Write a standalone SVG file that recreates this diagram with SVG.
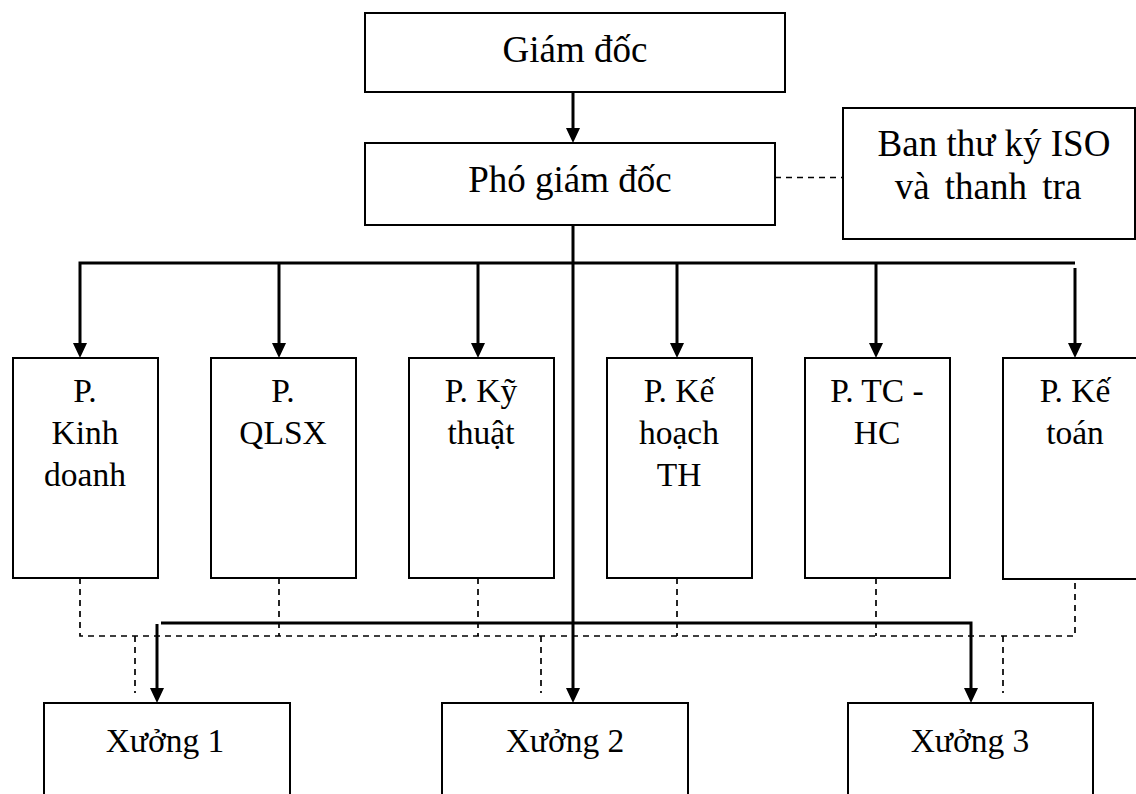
<svg xmlns="http://www.w3.org/2000/svg" width="1136" height="794" viewBox="0 0 1136 794">
<style>
.box{fill:#fff;stroke:#000;stroke-width:2}
.t{font-family:"Liberation Serif","Times New Roman",serif;fill:#000;text-anchor:middle}
.big{font-size:37px}
.mid{font-size:33.5px}
.solid{fill:none;stroke:#000;stroke-width:3}
.dash{fill:none;stroke:#000;stroke-width:1.7;stroke-dasharray:6 5}
.head{fill:#000}
</style>
<rect width="1136" height="794" fill="#fff"/>
<g id="connectors">
<line class="solid" x1="573" y1="92" x2="573" y2="130"/>
<polygon class="head" points="566,128 580,128 573,143"/>
<line class="dash" x1="775" y1="177.5" x2="843" y2="177.5"/>
<line class="solid" x1="573" y1="225" x2="573" y2="690"/>
<polygon class="head" points="566,688 580,688 573,703"/>
<path class="solid" d="M80,345 V263 H1075"/>
<line class="solid" x1="1075" y1="268" x2="1075" y2="345"/>
<line class="solid" x1="279" y1="263" x2="279" y2="345"/>
<line class="solid" x1="478" y1="263" x2="478" y2="345"/>
<line class="solid" x1="677" y1="263" x2="677" y2="345"/>
<line class="solid" x1="876" y1="263" x2="876" y2="345"/>
<polygon class="head" points="73,343 87,343 80,358"/>
<polygon class="head" points="272,343 286,343 279,358"/>
<polygon class="head" points="471,343 485,343 478,358"/>
<polygon class="head" points="670,343 684,343 677,358"/>
<polygon class="head" points="869,343 883,343 876,358"/>
<polygon class="head" points="1068,343 1082,343 1075,358"/>
<path class="dash" d="M80,578 V636 H1075 V579"/>
<line class="dash" x1="279" y1="578" x2="279" y2="636"/>
<line class="dash" x1="478" y1="578" x2="478" y2="636"/>
<line class="dash" x1="677" y1="578" x2="677" y2="636"/>
<line class="dash" x1="876" y1="578" x2="876" y2="636"/>
<line class="dash" x1="135" y1="636" x2="135" y2="693"/>
<line class="dash" x1="541" y1="636" x2="541" y2="693"/>
<line class="dash" x1="1003" y1="636" x2="1003" y2="693"/>
<path class="solid" d="M161,623 H971 V690"/>
<line class="solid" x1="157" y1="624" x2="157" y2="690"/>
<polygon class="head" points="150,688 164,688 157,703"/>
<polygon class="head" points="964,688 978,688 971,703"/>
</g>
<g id="giam-doc">
<rect class="box" x="365" y="13" width="420" height="79"/>
<text class="t big" x="575" y="62">Giám đốc</text>
</g>
<g id="pho-giam-doc">
<rect class="box" x="365" y="143" width="410" height="82"/>
<text class="t big" x="570" y="192">Phó giám đốc</text>
</g>
<g id="ban-thu-ky">
<rect class="box" x="843" y="108" width="292" height="131"/>
<text class="t big" x="994" y="156">Ban thư ký ISO</text>
<text class="t big" x="988" y="199" word-spacing="6">và thanh tra</text>
</g>
<g id="p-kinh-doanh">
<rect class="box" x="13" y="358" width="145" height="220"/>
<text class="t mid" x="85" y="402">P.</text>
<text class="t mid" x="85" y="444">Kinh</text>
<text class="t mid" x="85" y="486">doanh</text>
</g>
<g id="p-qlsx">
<rect class="box" x="211" y="358" width="145" height="220"/>
<text class="t mid" x="283" y="402">P.</text>
<text class="t mid" x="283" y="444">QLSX</text>
</g>
<g id="p-ky-thuat">
<rect class="box" x="409" y="358" width="145" height="220"/>
<text class="t mid" x="481" y="402">P. Kỹ</text>
<text class="t mid" x="481" y="444">thuật</text>
</g>
<g id="p-ke-hoach">
<rect class="box" x="607" y="358" width="145" height="220"/>
<text class="t mid" x="679" y="402">P. Kế</text>
<text class="t mid" x="679" y="444">hoạch</text>
<text class="t mid" x="679" y="486">TH</text>
</g>
<g id="p-tc-hc">
<rect class="box" x="805" y="358" width="145" height="220"/>
<text class="t mid" x="877" y="402">P. TC -</text>
<text class="t mid" x="877" y="444">HC</text>
</g>
<g id="p-ke-toan">
<rect class="box" x="1003" y="358" width="145" height="221"/>
<text class="t mid" x="1075" y="402">P. Kế</text>
<text class="t mid" x="1075" y="444">toán</text>
</g>
<g id="xuong-1">
<rect class="box" x="44" y="703" width="246" height="110"/>
<text class="t mid" x="165" y="752">Xưởng 1</text>
</g>
<g id="xuong-2">
<rect class="box" x="442" y="703" width="246" height="110"/>
<text class="t mid" x="565" y="752">Xưởng 2</text>
</g>
<g id="xuong-3">
<rect class="box" x="848" y="703" width="245" height="110"/>
<text class="t mid" x="970" y="752">Xưởng 3</text>
</g>
</svg>
